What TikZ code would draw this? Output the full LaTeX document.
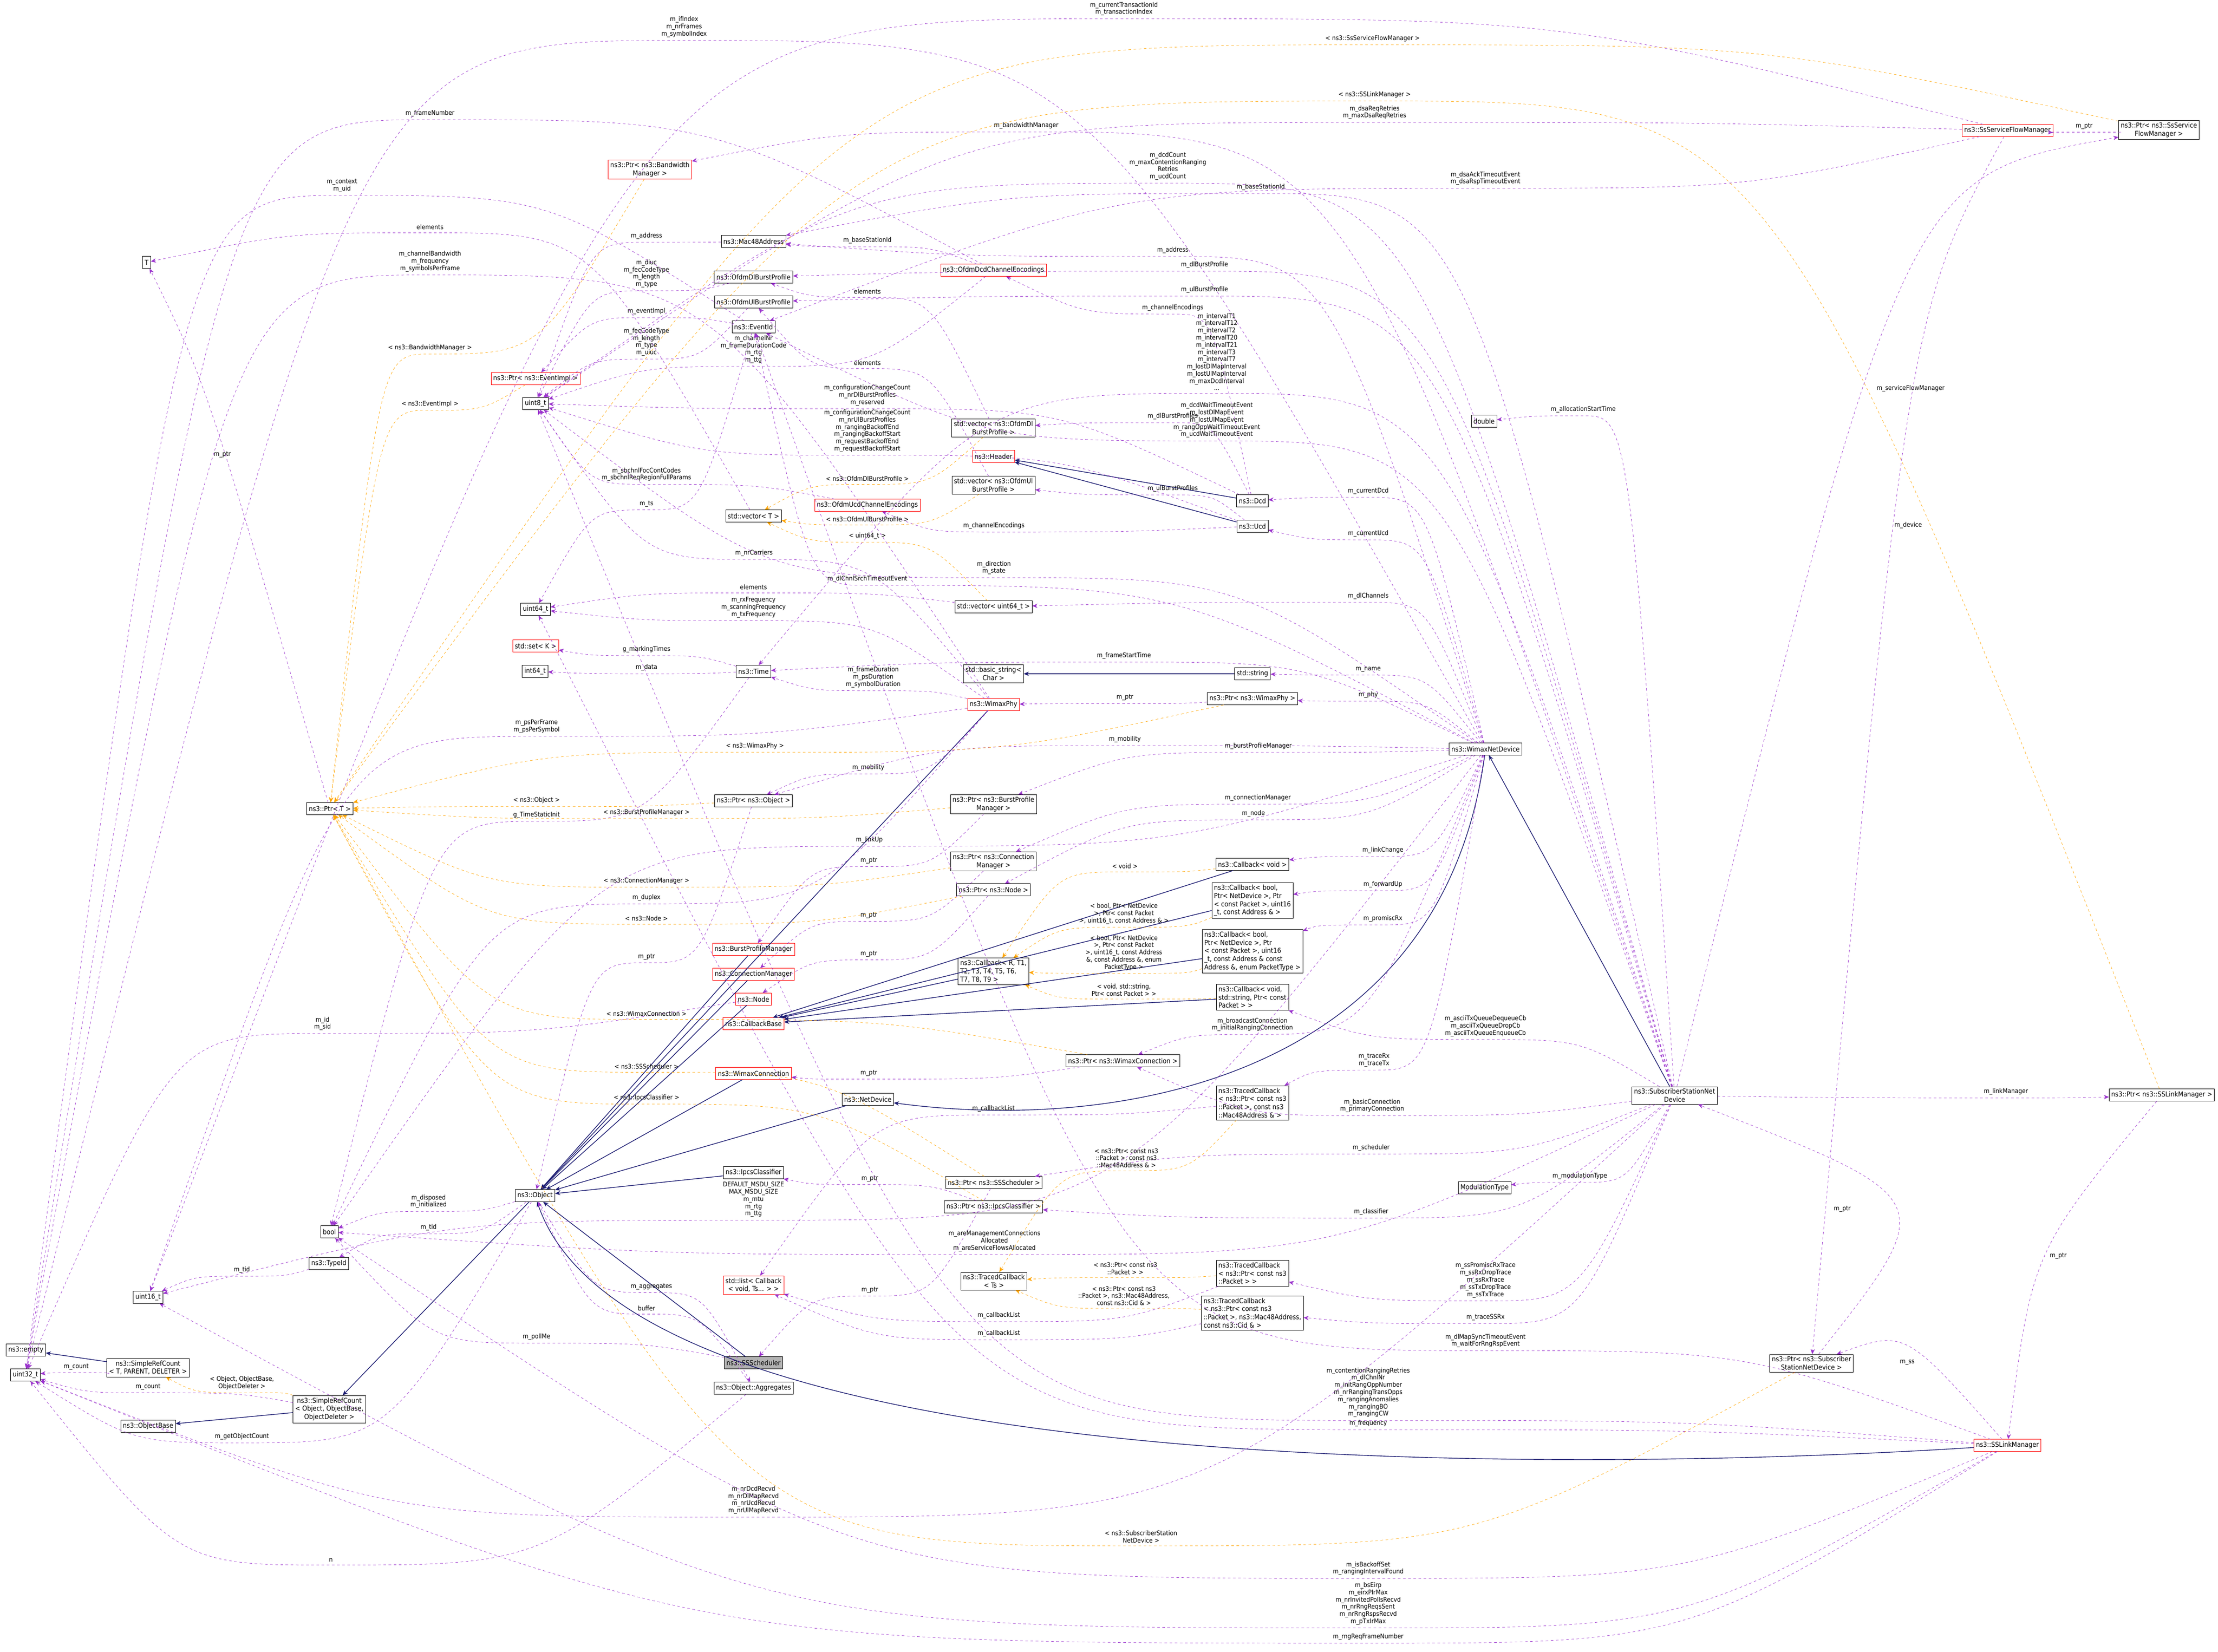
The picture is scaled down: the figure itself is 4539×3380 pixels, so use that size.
\documentclass[tikz,border=0pt]{standalone}
\usepackage{fontspec}
\setmainfont{DejaVu Sans Condensed}
\usetikzlibrary{arrows.meta,calc}
\definecolor{mpurple}{HTML}{9A32CD}
\definecolor{morange}{HTML}{FFA500}
\definecolor{mnavy}{HTML}{191970}
\newcount\lblc
\tikzset{
 cls/.style={draw=black, fill=white, font=\fontsize{8}{9.5}\selectfont, align=center, inner sep=2.5pt, minimum height=14pt},
 rcls/.style={cls, draw=red},
 gcls/.style={cls, fill=black!30},
 lbl/.style={font=\fontsize{7.5}{8.4}\selectfont, align=center, inner sep=0pt},
 mem/.style={draw=mpurple, dashed, -{Stealth[length=6pt,width=5pt]}},
 tpl/.style={draw=morange, dashed, -{Stealth[length=6pt,width=5pt]}},
 inh/.style={draw=mnavy, thick, -{Stealth[length=6pt,width=5pt]}},
}
\newcommand\EDGE[5]{\global\advance\lblc by 1 \edef\nm{\the\lblc}%
 \node[lbl] (L\nm) at (#4) {#5};
 \coordinate (P\nm) at ($(L\nm.south)+(0,6)$);
 \coordinate (A\nm) at ($(P\nm)!0.5!(#2)$);
 \coordinate (B\nm) at ($(P\nm)!0.5!(#3)$);
 \draw[#1] (#2) .. controls (A\nm|-P\nm) .. (P\nm) .. controls (B\nm|-P\nm) .. (#3);}
\newcommand\ME[4]{\EDGE{mem}{#1}{#2}{#3}{#4}}
\newcommand\TE[4]{\EDGE{tpl}{#1}{#2}{#3}{#4}}
\newcommand\MV[4]{\global\advance\lblc by 1 \node[lbl] (L\the\lblc) at (#3) {#4}; \draw[mem] (#1) .. controls ($2*(L\the\lblc.south)+(0,8)-0.5*(#1)-0.5*(#2)$) .. (#2);}
\newcommand\IE[2]{\draw[inh] (#1) -- (#2);}
\begin{document}
\begin{tikzpicture}[x=0.02cm,y=-0.02cm]
\useasboundingbox[fill=white] (0,0) rectangle (4539,3380);
% nodes
\node[cls] (T) at (300,537) {T};
\node[cls] (pT) at (675,1655) {ns3::Ptr< T >};
\node[rcls] (BWM) at (1330,347) {ns3::Ptr< ns3::Bandwidth\\Manager >};
\node[cls] (mac) at (1542,494) {ns3::Mac48Address};
\node[cls] (odl) at (1542,567) {ns3::OfdmDlBurstProfile};
\node[cls] (oul) at (1542,618) {ns3::OfdmUlBurstProfile};
\node[cls] (eid) at (1542,669) {ns3::EventId};
\node[rcls] (odcd) at (2033,553) {ns3::OfdmDcdChannelEncodings};
\node[rcls] (pei) at (1096,775) {ns3::Ptr< ns3::EventImpl >};
\node[cls] (u8) at (1096,826) {uint8\_t};
\node[cls] (vdl) at (2033,876) {std::vector< ns3::OfdmDl\\BurstProfile >};
\node[rcls] (hdr) at (2033,934) {ns3::Header};
\node[cls] (vul) at (2033,993) {std::vector< ns3::OfdmUl\\BurstProfile >};
\node[rcls] (oucd) at (1775,1034) {ns3::OfdmUcdChannelEncodings};
\node[cls] (vT) at (1542,1056) {std::vector< T >};
\node[cls] (vu64) at (2033,1242) {std::vector< uint64\_t >};
\node[cls] (u64) at (1096,1247) {uint64\_t};
\node[rcls] (setK) at (1096,1322) {std::set< K >};
\node[cls] (i64) at (1095,1374) {int64\_t};
\node[cls] (time) at (1542,1374) {ns3::Time};
\node[cls] (bstr) at (2033,1379) {std::basic\_string<\\ Char >};
\node[cls] (str) at (2563,1379) {std::string};
\node[rcls] (phy) at (2033,1442) {ns3::WimaxPhy};
\node[cls] (pphy) at (2563,1430) {ns3::Ptr< ns3::WimaxPhy >};
\node[cls] (pobj) at (1542,1639) {ns3::Ptr< ns3::Object >};
\node[cls] (pbpm) at (2033,1646) {ns3::Ptr< ns3::BurstProfile\\Manager >};
\node[cls] (pcm) at (2033,1763) {ns3::Ptr< ns3::Connection\\Manager >};
\node[cls] (pnode) at (2033,1821) {ns3::Ptr< ns3::Node >};
\node[cls] (cbv) at (2563,1769) {ns3::Callback< void >};
\node[cls, align=left] (cbb4) at (2563,1843) {ns3::Callback< bool,\\ Ptr< NetDevice >, Ptr\\< const Packet >, uint16\\\_t, const Address \& >};
\node[cls, align=left] (cbR) at (2033,1988) {ns3::Callback< R, T1,\\ T2, T3, T4, T5, T6,\\ T7, T8, T9 >};
\node[cls, align=left] (cbb5) at (2563,1947) {ns3::Callback< bool,\\ Ptr< NetDevice >, Ptr\\< const Packet >, uint16\\\_t, const Address \& const\\ Address \&, enum PacketType >};
\node[cls, align=left] (cbvs) at (2563,2041) {ns3::Callback< void,\\ std::string, Ptr< const\\ Packet > >};
\node[rcls] (bpm) at (1542,1943) {ns3::BurstProfileManager};
\node[rcls] (cm) at (1542,1994) {ns3::ConnectionManager};
\node[rcls] (node) at (1542,2045) {ns3::Node};
\node[rcls] (cbase) at (1542,2095) {ns3::CallbackBase};
\node[cls] (pwc) at (2298,2171) {ns3::Ptr< ns3::WimaxConnection >};
\node[rcls] (wc) at (1542,2197) {ns3::WimaxConnection};
\node[cls] (nd) at (1776,2250) {ns3::NetDevice};
\node[cls, align=left] (tcm) at (2563,2257) {ns3::TracedCallback\\< ns3::Ptr< const ns3\\::Packet >, const ns3\\::Mac48Address \& >};
\node[cls] (psch) at (2034,2420) {ns3::Ptr< ns3::SSScheduler >};
\node[cls] (pipc) at (2033,2470) {ns3::Ptr< ns3::IpcsClassifier >};
\node[cls] (mod) at (3038,2431) {ModulationType};
\node[cls] (tcts) at (2034,2622) {ns3::TracedCallback\\< Ts >};
\node[cls, align=left] (tcp) at (2563,2606) {ns3::TracedCallback\\< ns3::Ptr< const ns3\\::Packet > >};
\node[cls, align=left] (tcc) at (2563,2687) {ns3::TracedCallback\\< ns3::Ptr< const ns3\\::Packet >, ns3::Mac48Address,\\ const ns3::Cid \& >};
\node[cls] (obj) at (1095,2447) {ns3::Object};
\node[cls] (bool) at (674,2521) {bool};
\node[cls] (tid) at (673,2586) {ns3::TypeId};
\node[cls] (u16) at (303,2655) {uint16\_t};
\node[cls] (empty) at (53,2763) {ns3::empty};
\node[cls] (u32) at (52,2814) {uint32\_t};
\node[cls] (src1) at (303,2799) {ns3::SimpleRefCount\\< T, PARENT, DELETER >};
\node[cls] (src2) at (674,2884) {ns3::SimpleRefCount\\< Object, ObjectBase,\\ ObjectDeleter >};
\node[cls] (obase) at (303,2919) {ns3::ObjectBase};
\node[gcls] (ssch) at (1542,2789) {ns3::SSScheduler};
\node[cls] (aggr) at (1542,2841) {ns3::Object::Aggregates};
\node[rcls] (list) at (1542,2630) {std::list< Callback\\< void, Ts... > >};
\node[cls] (ipc) at (1542,2400) {ns3::IpcsClassifier};
\node[rcls] (sfm) at (4108,267) {ns3::SsServiceFlowManager};
\node[cls] (psfm) at (4418,266) {ns3::Ptr< ns3::SsService\\FlowManager >};
\node[cls] (dbl) at (3037,862) {double};
\node[cls] (dcd) at (2563,1025) {ns3::Dcd};
\node[cls] (ucd) at (2563,1077) {ns3::Ucd};
\node[cls] (wnd) at (3040,1533) {ns3::WimaxNetDevice};
\node[cls] (ssnd) at (3427,2242) {ns3::SubscriberStationNet\\Device};
\node[cls] (plm) at (4424,2241) {ns3::Ptr< ns3::SSLinkManager >};
\node[cls] (pssnd) at (3707,2790) {ns3::Ptr< ns3::Subscriber\\StationNetDevice >};
\node[rcls] (lm) at (4108,2958) {ns3::SSLinkManager};
% inheritance
\IE{ssnd}{wnd} \IE{nd}{obj} \IE{phy}{obj} \IE{bpm}{obj} \IE{cm}{obj} \IE{node}{obj} \IE{wc}{obj} \IE{ipc}{obj} \IE{ssch}{obj} \IE{obj}{src2} \IE{src2}{obase} \IE{src1}{empty} \IE{dcd}{hdr} \IE{ucd}{hdr} \IE{cbR}{cbase} \IE{cbv}{cbase} \IE{cbb4}{cbase} \IE{cbb5}{cbase} \IE{cbvs}{cbase} \IE{str}{bstr}
\draw[inh] (wnd) .. controls (2950,2200) and (2300,2320) .. (nd);
\draw[inh] (lm) .. controls (3300,3010) and (1300,3050) .. (obj);
% members
\ME{mac}{u8}{1323,483}{m\_address}
\ME{odl}{u8}{1323,560}{m\_diuc\\m\_fecCodeType\\m\_length\\m\_type}
\ME{eid}{pei}{1323,637}{m\_eventImpl}
\ME{oul}{u8}{1323,700}{m\_fecCodeType\\m\_length\\m\_type\\m\_uiuc}
\ME{odcd}{u8}{1542,715}{m\_channelNr\\m\_frameDurationCode\\m\_rtg\\m\_ttg}
\ME{odcd}{mac}{1775,492}{m\_baseStationId}
\ME{vdl}{odl}{1775,597}{elements}
\ME{vul}{oul}{1775,743}{elements}
\ME{dcd}{u8}{1775,809}{m\_configurationChangeCount\\m\_nrDlBurstProfiles\\m\_reserved}
\ME{ucd}{u8}{1775,882}{m\_configurationChangeCount\\m\_nrUlBurstProfiles\\m\_rangingBackoffEnd\\m\_rangingBackoffStart\\m\_requestBackoffEnd\\m\_requestBackoffStart}
\ME{oucd}{u8}{1323,971}{m\_sbchnlFocContCodes\\m\_sbchnlReqRegionFullParams}
\ME{eid}{u64}{1323,1031}{m\_ts}
\ME{dcd}{vdl}{2400,852}{m\_dlBurstProfiles}
\ME{ucd}{vul}{2400,1000}{m\_ulBurstProfiles}
\ME{dcd}{odcd}{2400,630}{m\_channelEncodings}
\ME{ucd}{oucd}{2034,1076}{m\_channelEncodings}
\ME{phy}{u8}{1543,1132}{m\_nrCarriers}
\ME{wnd}{u8}{2034,1162}{m\_direction\\m\_state}
\ME{wnd}{eid}{1775,1185}{m\_dlChnlSrchTimeoutEvent}
\ME{vu64}{u64}{1542,1202}{elements}
\ME{phy}{u64}{1542,1243}{m\_rxFrequency\\m\_scanningFrequency\\m\_txFrequency}
\ME{time}{setK}{1323,1329}{g\_markingTimes}
\ME{time}{i64}{1323,1366}{m\_data}
\ME{phy}{time}{1787,1386}{m\_frameDuration\\m\_psDuration\\m\_symbolDuration}
\ME{pphy}{phy}{2302,1427}{m\_ptr}
\ME{wnd}{str}{2800,1370}{m\_name}
\ME{wnd}{pphy}{2800,1422}{m\_phy}
\ME{wnd}{time}{2300,1342}{m\_frameStartTime}
\ME{phy}{u16}{1098,1487}{m\_psPerFrame\\m\_psPerSymbol}
\ME{wnd}{pobj}{2302,1513}{m\_mobility}
\ME{phy}{pobj}{1777,1571}{m\_mobility}
\ME{wnd}{pbpm}{2575,1527}{m\_burstProfileManager}
\ME{wnd}{bool}{1779,1719}{m\_linkUp}
\ME{wnd}{pcm}{2574,1633}{m\_connectionManager}
\ME{wnd}{pnode}{2565,1665}{m\_node}
\ME{pbpm}{bpm}{1778,1761}{m\_ptr}
\ME{pcm}{cm}{1778,1873}{m\_ptr}
\ME{pnode}{node}{1778,1952}{m\_ptr}
\ME{phy}{bool}{1323,1837}{m\_duplex}
\ME{pobj}{obj}{1323,1958}{m\_ptr}
\ME{wnd}{cbv}{2830,1740}{m\_linkChange}
\ME{wnd}{cbb4}{2830,1810}{m\_forwardUp}
\ME{wnd}{cbb5}{2830,1880}{m\_promiscRx}
\ME{ssnd}{cbvs}{3040,2100}{m\_asciiTxQueueDequeueCb\\m\_asciiTxQueueDropCb\\m\_asciiTxQueueEnqueueCb}
\ME{wnd}{pwc}{2563,2097}{m\_broadcastConnection\\m\_initialRangingConnection}
\ME{pwc}{wc}{1778,2196}{m\_ptr}
\ME{ssnd}{pwc}{2808,2263}{m\_basicConnection\\m\_primaryConnection}
\ME{wnd}{tcm}{2812,2170}{m\_traceRx\\m\_traceTx}
\ME{tcm}{list}{2033,2269}{m\_callbackList}
\ME{tcp}{list}{2044,2692}{m\_callbackList}
\ME{tcc}{list}{2044,2729}{m\_callbackList}
\ME{ssnd}{psch}{2806,2349}{m\_scheduler}
\ME{psch}{ssch}{1780,2640}{m\_ptr}
\ME{pipc}{ipc}{1780,2412}{m\_ptr}
\ME{ssnd}{mod}{3233,2407}{m\_modulationType}
\ME{ssnd}{pipc}{2806,2480}{m\_classifier}
\ME{ssnd}{bool}{2035,2540}{m\_areManagementConnections\\Allocated\\m\_areServiceFlowsAllocated}
\ME{ssnd}{tcp}{3040,2620}{m\_ssPromiscRxTrace\\m\_ssRxDropTrace\\m\_ssRxTrace\\m\_ssTxDropTrace\\m\_ssTxTrace}
\ME{ssnd}{tcc}{3040,2696}{m\_traceSSRx}
\ME{lm}{eid}{3040,2744}{m\_dlMapSyncTimeoutEvent\\m\_waitForRngRspEvent}
\ME{lm}{u8}{2800,2850}{m\_contentionRangingRetries\\m\_dlChnlNr\\m\_initRangOppNumber\\m\_nrRangingTransOpps\\m\_rangingAnomalies\\m\_rangingBO\\m\_rangingCW}
\ME{lm}{u64}{2800,2913}{m\_frequency}
\MV{lm}{pssnd}{3903,2788}{m\_ss}
\ME{ssnd}{u32}{1542,3070}{m\_nrDcdRecvd\\m\_nrDlMapRecvd\\m\_nrUcdRecvd\\m\_nrUlMapRecvd}
\ME{lm}{bool}{2800,3210}{m\_isBackoffSet\\m\_rangingIntervalFound}
\ME{lm}{u16}{2800,3282}{m\_bsEirp\\m\_eirxPIrMax\\m\_nrInvitedPollsRecvd\\m\_nrRngReqsSent\\m\_nrRngRspsRecvd\\m\_pTxIrMax}
\ME{lm}{u32}{2800,3350}{m\_rngReqFrameNumber}
\ME{aggr}{u32}{677,3193}{n}
\ME{src2}{u32}{303,2838}{m\_count}
\ME{src1}{u32}{156,2797}{m\_count}
\ME{obj}{u32}{495,2940}{m\_getObjectCount}
\ME{obj}{bool}{877,2459}{m\_disposed\\m\_initialized}
\ME{obj}{tid}{877,2512}{m\_tid}
\ME{tid}{u16}{495,2599}{m\_tid}
\ME{obj}{aggr}{1333,2633}{m\_aggregates}
\ME{aggr}{obj}{1323,2678}{buffer}
\ME{ssch}{bool}{1098,2736}{m\_pollMe}
\ME{wnd}{u16}{1542,2455}{DEFAULT\_MSDU\_SIZE\\MAX\_MSDU\_SIZE\\m\_mtu\\m\_rtg\\m\_ttg}
\ME{sfm}{u8}{2813,230}{m\_dsaReqRetries\\m\_maxDsaReqRetries}
\ME{sfm}{eid}{3040,365}{m\_dsaAckTimeoutEvent\\m\_dsaRspTimeoutEvent}
\ME{ssnd}{mac}{2580,383}{m\_baseStationId}
\ME{psfm}{sfm}{4265,258}{m\_ptr}
\MV{ssnd}{psfm}{3910,795}{m\_serviceFlowManager}
\MV{sfm}{pssnd}{3905,1075}{m\_device}
\MV{plm}{lm}{4212,2570}{m\_ptr}
\ME{ssnd}{plm}{4105,2234}{m\_linkManager}
\MV{pssnd}{ssnd}{3770,2474}{m\_ptr}
\ME{sfm}{u16}{2300,18}{m\_currentTransactionId\\m\_transactionIndex}
\ME{wnd}{u32}{1400,55}{m\_ifIndex\\m\_nrFrames\\m\_symbolIndex}
\ME{odcd}{u32}{880,232}{m\_frameNumber}
\ME{ssnd}{BWM}{2100,257}{m\_bandwidthManager}
\ME{ssnd}{u8}{2390,340}{m\_dcdCount\\m\_maxContentionRanging\\Retries\\m\_ucdCount}
\ME{eid}{u32}{700,380}{m\_context\\m\_uid}
\ME{vT}{T}{880,465}{elements}
\ME{phy}{u32}{880,535}{m\_channelBandwidth\\m\_frequency\\m\_symbolsPerFrame}
\ME{wnd}{mac}{2400,512}{m\_address}
\ME{ssnd}{odl}{2465,542}{m\_dlBurstProfile}
\ME{ssnd}{oul}{2465,593}{m\_ulBurstProfile}
\ME{ssnd}{time}{2490,720}{m\_intervalT1\\m\_intervalT12\\m\_intervalT2\\m\_intervalT20\\m\_intervalT21\\m\_intervalT3\\m\_intervalT7\\m\_lostDlMapInterval\\m\_lostUlMapInterval\\m\_maxDcdInterval\\...}
\ME{ssnd}{eid}{2490,860}{m\_dcdWaitTimeoutEvent\\m\_lostDlMapEvent\\m\_lostUlMapEvent\\m\_rangOppWaitTimeoutEvent\\m\_ucdWaitTimeoutEvent}
\ME{ssnd}{dbl}{3240,838}{m\_allocationStartTime}
\ME{wnd}{dcd}{2800,1005}{m\_currentDcd}
\ME{wnd}{ucd}{2800,1092}{m\_currentUcd}
\ME{wnd}{vu64}{2800,1220}{m\_dlChannels}
\MV{pT}{T}{455,930}{m\_ptr}
\ME{node}{u32}{660,2095}{m\_id\\m\_sid}
\ME{time}{bool}{1098,1668}{g\_TimeStaticInit}
% templates
\TE{psfm}{pT}{2809,79}{< ns3::SsServiceFlowManager >}
\TE{plm}{pT}{2813,194}{< ns3::SSLinkManager >}
\TE{BWM}{pT}{880,712}{< ns3::BandwidthManager >}
\TE{pei}{pT}{880,827}{< ns3::EventImpl >}
\TE{pphy}{pT}{1545,1527}{< ns3::WimaxPhy >}
\TE{pobj}{pT}{1098,1638}{< ns3::Object >}
\TE{pbpm}{pT}{1323,1663}{< ns3::BurstProfileManager >}
\TE{pcm}{pT}{1323,1803}{< ns3::ConnectionManager >}
\TE{pnode}{pT}{1323,1880}{< ns3::Node >}
\TE{pwc}{pT}{1323,2075}{< ns3::WimaxConnection >}
\TE{psch}{pT}{1323,2183}{< ns3::SSScheduler >}
\TE{pipc}{pT}{1323,2247}{< ns3::IpcsClassifier >}
\TE{pssnd}{pT}{2335,3145}{< ns3::SubscriberStation\\NetDevice >}
\TE{vdl}{vT}{1775,980}{< ns3::OfdmDlBurstProfile >}
\TE{vul}{vT}{1775,1063}{< ns3::OfdmUlBurstProfile >}
\TE{vu64}{vT}{1775,1097}{< uint64\_t >}
\TE{cbv}{cbR}{2302,1773}{< void >}
\TE{cbb4}{cbR}{2300,1870}{< bool, Ptr< NetDevice\\>, Ptr< const Packet\\>, uint16\_t, const Address \& >}
\TE{cbb5}{cbR}{2300,1950}{< bool, Ptr< NetDevice\\>, Ptr< const Packet\\>, uint16\_t, const Address\\\&, const Address \&, enum\\PacketType >}
\TE{cbvs}{cbR}{2300,2026}{< void, std::string,\\Ptr< const Packet > >}
\TE{tcm}{tcts}{2305,2370}{< ns3::Ptr< const ns3\\::Packet >, const ns3\\::Mac48Address \& >}
\TE{tcp}{tcts}{2303,2596}{< ns3::Ptr< const ns3\\::Packet > >}
\TE{tcc}{tcts}{2300,2652}{< ns3::Ptr< const ns3\\::Packet >, ns3::Mac48Address,\\const ns3::Cid \& >}
\TE{src2}{src1}{495,2830}{< Object, ObjectBase,\\ObjectDeleter >}
\end{tikzpicture}
\end{document}
